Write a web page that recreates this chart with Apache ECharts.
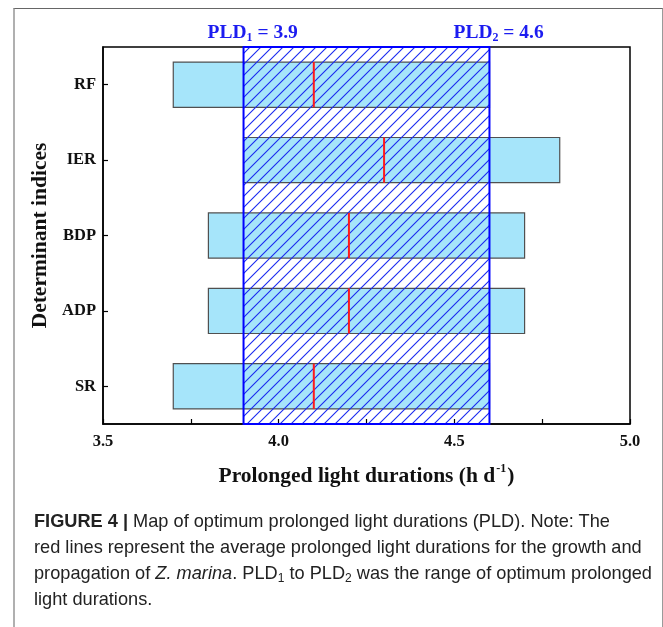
<!DOCTYPE html>
<html>
<head>
<meta charset="utf-8">
<script src="https://cdn.jsdelivr.net/npm/echarts@6/dist/echarts.min.js"></script>
<style>
html,body{margin:0;padding:0;background:#fff;}
#wrap{position:relative;width:663px;height:627px;overflow:hidden;}
#frame{position:absolute;left:13px;top:8px;width:647px;height:640px;border-left:2px solid #b0b0b0;border-right:1px solid #9a9a9a;border-top:1px solid #666;}
#chart{position:absolute;left:0;top:0;width:663px;height:627px;}
#cap{position:absolute;left:34px;top:508px;width:625px;font-family:"Liberation Sans",Arial,sans-serif;font-size:18.2px;line-height:26px;color:#222;white-space:nowrap;}
#cap sub{font-size:12px;vertical-align:-3px;line-height:0;}
</style>
</head>
<body>
<div id="wrap">
<div id="frame"></div>
<div id="chart"></div>
<div id="cap"><b>FIGURE 4 |</b> Map of optimum prolonged light durations (PLD). Note: The<br>red lines represent the average prolonged light durations for the growth and<br>propagation of <i>Z. marina</i>. PLD<sub>1</sub> to PLD<sub>2</sub> was the range of optimum prolonged<br>light durations.</div>
</div>
<script>
// ---- data ----
var categories = ['SR', 'ADP', 'BDP', 'IER', 'RF'];
var rangeStart = [3.7, 3.8, 3.8, 3.9, 3.7];
var rangeEnd   = [4.6, 4.7, 4.7, 4.8, 4.6];
var meanValues = [4.1, 4.2, 4.2, 4.3, 4.1];
var pldValues  = [3.9, 4.6];
var xTicks = [3.5, 4.0, 4.5, 5.0];

function makeHatch() {
  var s = 11;
  var c = document.createElement('canvas');
  c.width = s; c.height = s;
  var g = c.getContext('2d');
  g.strokeStyle = '#1a2af0';
  g.lineWidth = 1.1;
  g.beginPath();
  g.moveTo(-1, s + 1); g.lineTo(s + 1, -1);
  g.moveTo(-1, 1); g.lineTo(1, -1);
  g.moveTo(s - 1, s + 1); g.lineTo(s + 1, s - 1);
  g.stroke();
  return c;
}
var hatch = makeHatch();

var serif = '"Liberation Serif","Times New Roman",serif';
var chart = echarts.init(document.getElementById('chart'));

var barData = categories.map(function (c, i) { return [i, rangeStart[i], rangeEnd[i]]; });
var meanData = categories.map(function (c, i) { return [meanValues[i], i]; });

chart.setOption({
  animation: false,
  grid: { left: 103, right: 33, top: 47, bottom: 203, show: true, borderColor: '#000', borderWidth: 1.5, backgroundColor: 'transparent' },
  xAxis: {
    type: 'value', min: xTicks[0], max: xTicks[xTicks.length - 1], interval: 0.5,
    axisLine: { show: true, lineStyle: { color: '#000', width: 1.5 } },
    axisTick: { show: true, inside: true, length: 5, lineStyle: { color: '#000', width: 1.2 } },
    minorTick: { show: true, splitNumber: 2, length: 5, lineStyle: { color: '#000', width: 1.2 } },
    splitLine: { show: false },
    axisLabel: { margin: 9, fontFamily: serif, fontWeight: 'bold', fontSize: 16.5, color: '#111',
      formatter: function (v) { return v.toFixed(1); } },
    name: '{t|Prolonged light durations (h d}{s|-1}{t|)}',
    nameLocation: 'middle', nameGap: 39,
    nameTextStyle: { rich: {
      t: { fontFamily: serif, fontWeight: 'bold', fontSize: 21.5, color: '#111', lineHeight: 26 },
      s: { fontFamily: serif, fontWeight: 'bold', fontSize: 12, color: '#111', lineHeight: 26, verticalAlign: 'top', padding: [0, 1, 11, 1] }
    } }
  },
  yAxis: {
    type: 'category', data: categories,
    axisLine: { show: true, lineStyle: { color: '#000', width: 1.5 } },
    axisTick: { show: true, inside: true, alignWithLabel: true, length: 5, lineStyle: { color: '#000', width: 1.2 } },
    axisLabel: { margin: 7, fontFamily: serif, fontWeight: 'bold', fontSize: 16.5, color: '#111' },
    name: 'Determinant indices', nameLocation: 'middle', nameGap: 49,
    nameTextStyle: { fontFamily: serif, fontWeight: 'bold', fontSize: 21.5, color: '#111' }
  },
  series: [
    {
      type: 'custom', name: 'range', z: 2,
      encode: { x: [1, 2], y: 0 },
      data: barData,
      renderItem: function (params, api) {
        var ci = api.value(0);
        var p1 = api.coord([api.value(1), ci]);
        var p2 = api.coord([api.value(2), ci]);
        var h = api.size([0, 1])[1] * 0.6;
        return { type: 'rect', shape: { x: p1[0], y: p1[1] - h / 2, width: p2[0] - p1[0], height: h },
          style: { fill: '#a6e5fa', stroke: '#505050', lineWidth: 1.2 } };
      }
    },
    {
      type: 'custom', name: 'pld', z: 3,
      encode: { x: [0, 1] },
      data: [[pldValues[0], pldValues[1]]],
      renderItem: function (params, api) {
        var cs = params.coordSys;
        var x1 = api.coord([api.value(0), 0])[0];
        var x2 = api.coord([api.value(1), 0])[0];
        var rich = {
          a: { fontFamily: serif, fontWeight: 'bold', fontSize: 19.5, fill: '#1c1cf0', lineHeight: 22 },
          s: { fontFamily: serif, fontWeight: 'bold', fontSize: 12, fill: '#1c1cf0', lineHeight: 22, verticalAlign: 'bottom', padding: [9, 0, 0, 0] }
        };
        function lbl(x, k, v) {
          return { type: 'text', style: { x: x - 36, y: cs.y - 14, text: '{a|PLD}{s|' + k + '}{a| = ' + v.toFixed(1) + '}',
            rich: rich, verticalAlign: 'middle', align: 'left' } };
        }
        return { type: 'group', children: [
          { type: 'rect', shape: { x: x1, y: cs.y, width: x2 - x1, height: cs.height },
            style: { fill: { image: hatch, repeat: 'repeat' }, stroke: '#0000ff', lineWidth: 2 } },
          lbl(x1, 1, api.value(0)),
          lbl(x2, 2, api.value(1))
        ] };
      }
    },
    {
      type: 'custom', name: 'mean', z: 4,
      encode: { x: 0, y: 1 },
      data: meanData,
      renderItem: function (params, api) {
        var p = api.coord([api.value(0), api.value(1)]);
        var h = api.size([0, 1])[1] * 0.6;
        return { type: 'line', shape: { x1: p[0], y1: p[1] - h / 2, x2: p[0], y2: p[1] + h / 2 },
          style: { stroke: '#ff1a1a', lineWidth: 2 } };
      }
    }
  ]
});
</script>
</body>
</html>
